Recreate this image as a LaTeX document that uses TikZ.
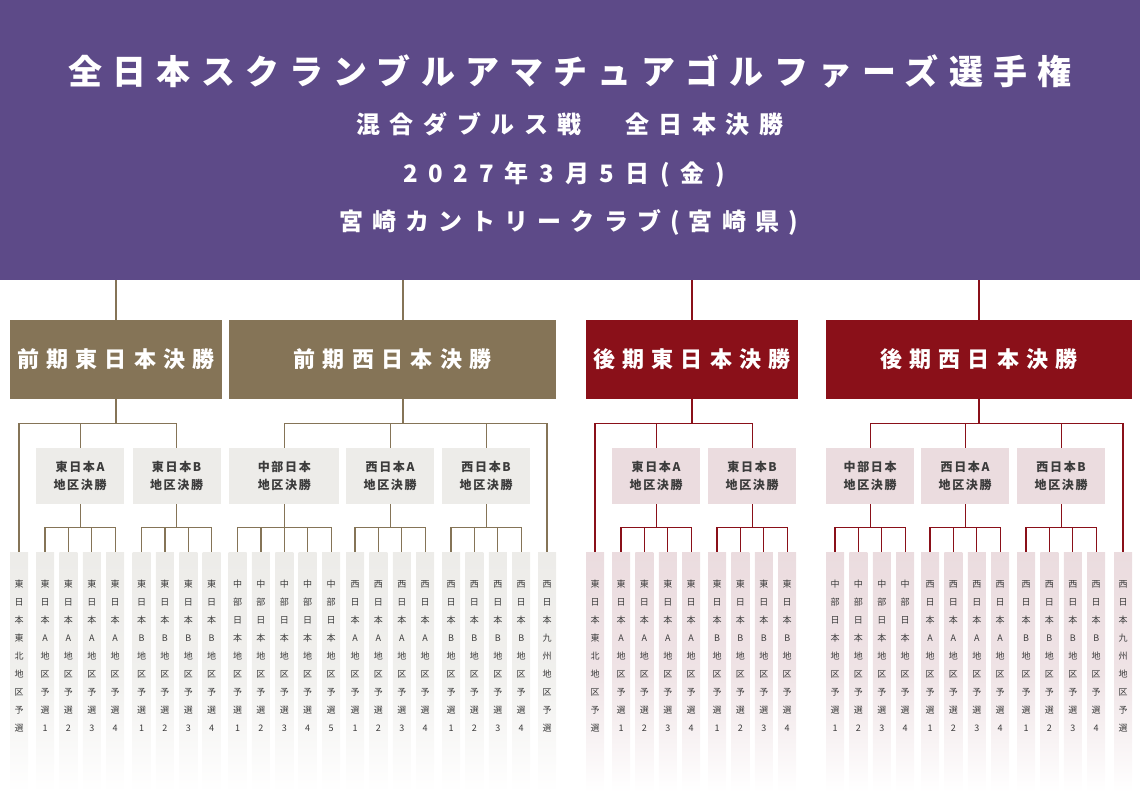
\documentclass[tikz,border=0pt]{standalone}
\usepackage{fontspec}
\setmainfont{Noto Sans CJK JP}

\definecolor{hdrpurple}{HTML}{5D4A88}
\definecolor{zenki}{HTML}{857457}
\definecolor{kouki}{HTML}{8A1019}
\definecolor{zgray}{HTML}{EDECE9}
\definecolor{kpink}{HTML}{EBDCDF}
\definecolor{txtgray}{HTML}{3C3C3C}

% vertical text: one character per line
\def\tateloop#1#2{#1\ifx\relax#2\else\\\expandafter\tateloop\expandafter#2\fi}
\newcommand\tate[1]{\edef\tatetmp{#1}\expandafter\tateloop\tatetmp\relax}

\begin{document}
\begin{tikzpicture}[x=1pt,y=-1pt,
		wire/.style={line width=1.2pt},
		title/.style={text=white, inner sep=0pt, font=\fontsize{34}{34}\selectfont\bfseries\addfontfeature{LetterSpace=30}},
		subtitle/.style={text=white, inner sep=0pt, font=\fontsize{24}{24}\selectfont\bfseries\addfontfeature{LetterSpace=#1}},
		block/.style={minimum height=79pt, inner sep=0pt, text=white, font=\fontsize{22}{22}\selectfont\bfseries\addfontfeature{LetterSpace=33}},
		dist/.style={minimum height=56pt, inner sep=0pt, align=center, text=txtgray, font=\fontsize{12}{18}\selectfont\bfseries\addfontfeature{LetterSpace=14}},
		leaf/.style={minimum width=18pt, minimum height=240pt, inner sep=0pt, anchor=north, top color=#1, bottom color=white, middle color=#1!80},
		leaftxt/.style={anchor=north, inner sep=0pt, align=center, text=txtgray, font=\fontsize{9}{18}\selectfont}]
	\useasboundingbox (0,0) rectangle (1140,792);
	
	% header
	\node[fill=hdrpurple, minimum width=1140pt, minimum height=280pt, inner sep=0pt, anchor=north west] (hdr) at (0,0) {};
	\node[title] (ttl) at (570,71) {全日本スクランブルアマチュアゴルファーズ選手権};
	\node[subtitle=40] (sub1) at (570,124) {混合ダブルス戦　全日本決勝};
	\node[subtitle=45] (sub2) at (564,175) {2027年3月5日(金)};
	\node[subtitle=38] (sub3) at (568.5,222) {宮崎カントリークラブ(宮崎県)};
	
	% finals
	\node[block, fill=zenki, minimum width=212pt] (zE) at (116,359.5) {前期東日本決勝};
	\node[block, fill=zenki, minimum width=327pt] (zW) at (392.5,359.5) {前期西日本決勝};
	\node[block, fill=kouki, minimum width=212pt] (kE) at (692,359.5) {後期東日本決勝};
	\node[block, fill=kouki, minimum width=306pt] (kW) at (979,359.5) {後期西日本決勝};
	\coordinate (zWn) at ([xshift=10.5pt]zW.north);
	\coordinate (zWs) at ([xshift=10.5pt]zW.south);
	
	\draw[wire, zenki] (zE.north) -- (zE.north |- hdr.south);
	\draw[wire, zenki] (zWn) -- (zWn |- hdr.south);
	\draw[wire, kouki] (kE.north) -- (kE.north |- hdr.south);
	\draw[wire, kouki] (kW.north) -- (kW.north |- hdr.south);
	
	% single qualifiers
	\foreach \lf/\x/\nm/\tint in {zL/19/東日本東北/zgray, zR/547/西日本九州/zgray,
			kL/595/東日本東北/kpink, kR/1123/西日本九州/kpink}{
		\node[leaf=\tint] (\lf) at (\x,552) {};
		\node[leaftxt] (\lf-t) at ([yshift=-28pt]\lf.north) {\tate{\nm 地区予選}};
	}
	
	% district finals and their qualifiers
	\foreach \g/\x/\n/\w/\nm/\tint/\ln in {
			zEA/45/4/88/東日本A/zgray/zenki, zEB/141.5/4/88/東日本B/zgray/zenki,
			zC/237.5/5/110/中部日本/zgray/zenki, zWA/355/4/88/西日本A/zgray/zenki,
			zWB/451/4/88/西日本B/zgray/zenki,
			kEA/621/4/88/東日本A/kpink/kouki, kEB/717/4/88/東日本B/kpink/kouki,
			kC/835/4/88/中部日本/kpink/kouki, kWA/930/4/88/西日本A/kpink/kouki,
			kWB/1026/4/88/西日本B/kpink/kouki}{
		\pgfmathsetmacro\cx{\x+(\n-1)*11.7}
		\node[dist, fill=\tint, minimum width=\w pt] (\g) at (\cx,476) {\nm\\地区決勝};
		\foreach \i in {1,...,\n}{
			\node[leaf=\tint] (\g-\i) at ({\x+(\i-1)*23.4},552) {};
			\node[leaftxt] (\g-\i-t) at ([yshift=-28pt]\g-\i.north) {\tate{\nm 地区予選\i}};
			\draw[wire, \ln] (\g.south) -- ++(0,23) -| (\g-\i.north);
		}
	}
	
	\foreach \ch in {zEA,zEB,zL} \draw[wire, zenki] (zE.south) -- ++(0,24) -| (\ch.north);
	\foreach \ch in {zC,zWA,zWB,zR} \draw[wire, zenki] (zWs) -- ++(0,24) -| (\ch.north);
	\foreach \ch in {kEA,kEB,kL} \draw[wire, kouki] (kE.south) -- ++(0,24) -| (\ch.north);
	\foreach \ch in {kC,kWA,kWB,kR} \draw[wire, kouki] (kW.south) -- ++(0,24) -| (\ch.north);
\end{tikzpicture}
\end{document}
